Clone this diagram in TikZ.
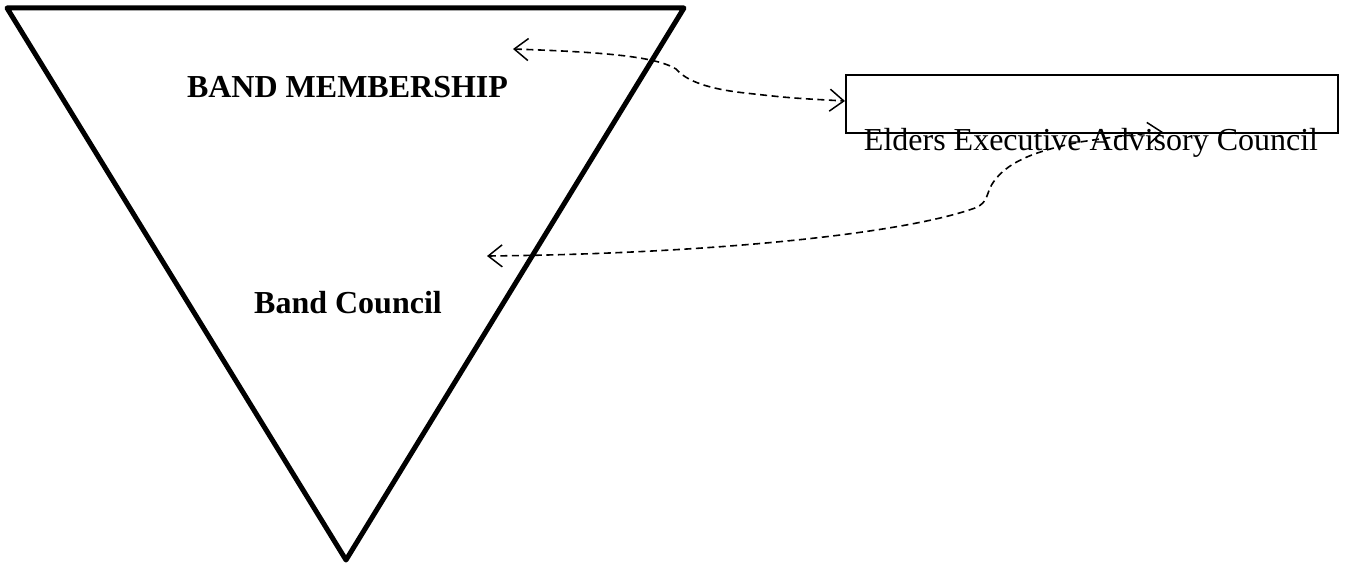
\documentclass[tikz,border=0pt]{standalone}
\usepackage{fontspec}
\setmainfont{Liberation Serif}
\usetikzlibrary{arrows.meta}
\begin{document}
\begin{tikzpicture}[x=1pt,y=-1pt,
  tri/.style={line width=5pt, line join=round, line cap=round},
  boxstyle/.style={draw, line width=1.5pt, minimum width=492pt, minimum height=58pt, inner sep=0pt},
  lbl/.style={anchor=base, inner sep=0pt, font=\fontsize{32}{38}\selectfont},
  link/.style={line width=1.6pt, dash pattern=on 7pt off 4.5pt,
    {Straight Barb[length=14pt,width=22pt,line width=1.5pt]}-{Straight Barb[length=14pt,width=22pt,line width=1.5pt]}}
]
\useasboundingbox (0,0) rectangle (1346,567);
% triangle
\coordinate (tl) at (7,8);
\coordinate (tr) at (684,8);
\coordinate (bt) at (346,560);
\draw[tri] (tl) -- (tr) -- (bt) -- cycle;
% labels
\node[lbl, font=\fontsize{32}{38}\selectfont\bfseries] (mem) at (347.5,98) {BAND MEMBERSHIP};
\node[lbl, font=\fontsize{32}{38}\selectfont\bfseries] (bc) at (348,313) {Band Council};
% box
\node[boxstyle] (box) at (1092,104) {};
\node[lbl] (eld) at (1091,150) {Elders Executive Advisory Council};
% connector endpoints
\coordinate (m1) at (513,49);
\coordinate (b1) at (845,101);
\coordinate (c2) at (487,256);
\coordinate (b2) at (1163,132);
\draw[link] (m1) .. controls (600,52) and (655,56) .. (676,69)
  .. controls (684,78) and (700,88) .. (745,93)
  .. controls (790,98) .. (b1);
\draw[link] (c2) .. controls (700,254) and (900,235) .. (975,208)
  .. controls (990,202) and (985,192) .. (995,180)
  .. controls (1010,160) and (1040,150) .. (1080,142)
  .. controls (1120,136) .. (b2);
\end{tikzpicture}
\end{document}
